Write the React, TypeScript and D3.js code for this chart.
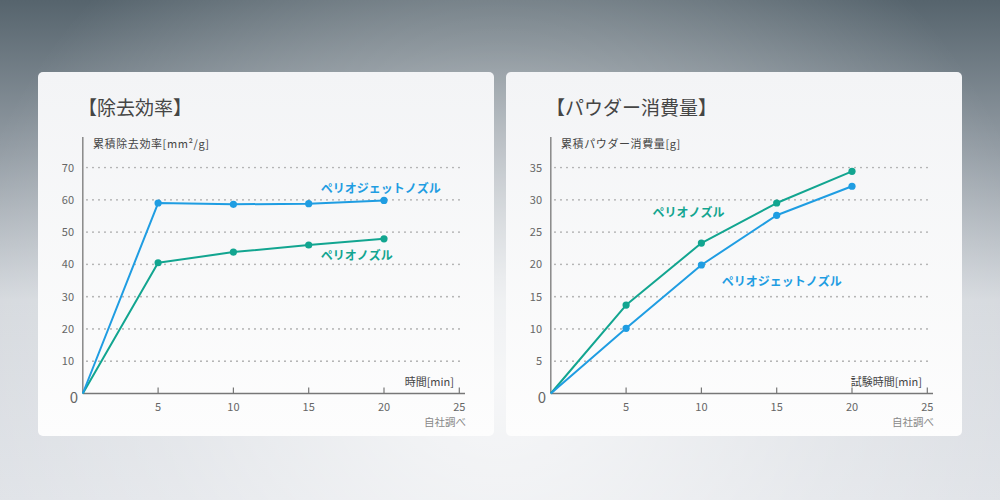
import * as React from "react"
import * as d3 from "d3"

// x values shared by both charts [min]
const minutes = [0, 5, 10, 15, 20]

// 除去効率
const removalJet = [0, 59, 58.6, 58.8, 59.8]
const removalNozzle = [0, 40.5, 43.8, 46, 47.9]
const removalTicks = [10, 20, 30, 40, 50, 60, 70]

// パウダー消費量
const powderJet = [0, 10.1, 19.9, 27.6, 32.1]
const powderNozzle = [0, 13.7, 23.3, 29.5, 34.4]
const powderTicks = [5, 10, 15, 20, 25, 30, 35]

const xTicks = [5, 10, 15, 20, 25]

const BLUE = "#1f9de2"
const GREEN = "#12a590"
const FONT = "'Noto Sans CJK JP', 'Noto Sans', sans-serif"

interface PanelConfig {
  left: number
  title: string
  yLabel: string
  xLabel: string
  yMax: number
  yTicks: number[]
  series: { name: string; values: number[]; color: string; label: [number, number] }[]
}

const panels: PanelConfig[] = [
  {
    left: 38,
    title: "【除去効率】",
    yLabel: "累積除去効率[mm²/g]",
    xLabel: "時間[min]",
    yMax: 70,
    yTicks: removalTicks,
    series: [
      { name: "ペリオノズル", values: removalNozzle, color: GREEN, label: [15.8, 42.7] },
      { name: "ペリオジェットノズル", values: removalJet, color: BLUE, label: [15.8, 63.5] },
    ],
  },
  {
    left: 506,
    title: "【パウダー消費量】",
    yLabel: "累積パウダー消費量[g]",
    xLabel: "試験時間[min]",
    yMax: 35,
    yTicks: powderTicks,
    series: [
      { name: "ペリオノズル", values: powderNozzle, color: GREEN, label: [6.75, 28] },
      { name: "ペリオジェットノズル", values: powderJet, color: BLUE, label: [11.35, 17.4] },
    ],
  },
]

function renderPanel(root: d3.Selection<SVGGElement, unknown, null, undefined>, p: PanelConfig, idx: number) {
  const g = root.append("g").attr("transform", `translate(${p.left},0)`)

  g.append("rect")
    .attr("x", 0)
    .attr("y", 72)
    .attr("width", 456)
    .attr("height", 364)
    .attr("rx", 5)
    .attr("fill", "url(#cardgrad)")

  const ox = 44.8
  const x = d3.scaleLinear().domain([0, 25]).range([ox, ox + 376.5])
  const y = d3.scaleLinear().domain([0, p.yMax]).range([393.5, 167.5])

  // title
  g.append("text")
    .attr("x", 40)
    .attr("y", 115)
    .attr("font-family", FONT)
    .attr("font-size", 19)
    .attr("fill", "#454545")
    .text(p.title)

  // grid
  g.selectAll(".grid")
    .data(p.yTicks)
    .join("line")
    .attr("class", "grid")
    .attr("x1", 49)
    .attr("x2", 423)
    .attr("y1", (d) => y(d))
    .attr("y2", (d) => y(d))
    .attr("stroke", "#a0a0a0")
    .attr("stroke-width", 1.7)
    .attr("stroke-linecap", "round")
    .attr("stroke-dasharray", "0,6")

  // y tick labels
  g.selectAll(".ytick")
    .data(p.yTicks)
    .join("text")
    .attr("class", "ytick")
    .attr("x", 36)
    .attr("y", (d) => y(d) + 4)
    .attr("text-anchor", "end")
    .attr("font-family", FONT)
    .attr("font-size", 11)
    .attr("fill", "#666")
    .text((d) => d)

  g.append("text")
    .attr("x", 40)
    .attr("y", y(0) + 9)
    .attr("text-anchor", "end")
    .attr("font-family", FONT)
    .attr("font-size", 15)
    .attr("fill", "#666")
    .text("0")

  // axes
  g.append("line")
    .attr("x1", ox)
    .attr("x2", ox)
    .attr("y1", 137)
    .attr("y2", y(0))
    .attr("stroke", "#888")
    .attr("stroke-width", 1.5)
  g.append("line")
    .attr("x1", ox)
    .attr("x2", 427)
    .attr("y1", y(0))
    .attr("y2", y(0))
    .attr("stroke", "#777")
    .attr("stroke-width", 1.5)

  g.selectAll(".xtick")
    .data(xTicks)
    .join("line")
    .attr("class", "xtick")
    .attr("x1", (d) => x(d))
    .attr("x2", (d) => x(d))
    .attr("y1", y(0) - 6)
    .attr("y2", y(0))
    .attr("stroke", "#777")
    .attr("stroke-width", 1.2)

  g.selectAll(".xlabel")
    .data(xTicks)
    .join("text")
    .attr("class", "xlabel")
    .attr("x", (d) => x(d))
    .attr("y", y(0) + 17.5)
    .attr("text-anchor", "middle")
    .attr("font-family", FONT)
    .attr("font-size", 11)
    .attr("fill", "#666")
    .text((d) => d)

  // axis labels
  g.append("text")
    .attr("x", 55)
    .attr("y", 148)
    .attr("font-family", FONT)
    .attr("font-size", 11)
    .attr("letter-spacing", 0.6)
    .attr("fill", "#444")
    .text(p.yLabel)
  g.append("text")
    .attr("x", 416)
    .attr("y", 386)
    .attr("text-anchor", "end")
    .attr("font-family", FONT)
    .attr("font-size", 11)
    .attr("fill", "#444")
    .text(p.xLabel)
  g.append("text")
    .attr("x", 428)
    .attr("y", 426)
    .attr("text-anchor", "end")
    .attr("font-family", FONT)
    .attr("font-size", 10.5)
    .attr("fill", "#888")
    .text("自社調べ")

  // series
  const line = d3
    .line<number>()
    .x((_d, i) => x(minutes[i]))
    .y((d) => y(d))

  p.series.forEach((s) => {
    g.append("path")
      .attr("d", line(s.values))
      .attr("fill", "none")
      .attr("stroke", s.color)
      .attr("stroke-width", 2)
      .attr("stroke-linejoin", "round")

    g.selectAll(`.dot-${idx}-${s.color.slice(1)}`)
      .data(s.values.slice(1))
      .join("circle")
      .attr("cx", (_d, i) => x(minutes[i + 1]))
      .attr("cy", (d) => y(d))
      .attr("r", 3.6)
      .attr("fill", s.color)

    g.append("text")
      .attr("x", x(s.label[0]))
      .attr("y", y(s.label[1]) + 4.5)
      .attr("font-family", FONT)
      .attr("font-size", 12)
      .attr("font-weight", "bold")
      .attr("fill", s.color)
      .text(s.name)
  })
}

export default function App(): React.JSX.Element {
  const svgRef = React.useRef<SVGSVGElement>(null)

  React.useEffect(() => {
    const svg = d3.select(svgRef.current)
    svg.selectAll("*").remove()

    const defs = svg.append("defs")
    const bg = defs
      .append("linearGradient")
      .attr("id", "bgline")
      .attr("x1", "0%")
      .attr("x2", "0%")
      .attr("y1", "0%")
      .attr("y2", "100%")
    bg.append("stop").attr("offset", "0%").attr("stop-color", "#56646d")
    bg.append("stop").attr("offset", "30%").attr("stop-color", "#939ca4")
    bg.append("stop").attr("offset", "60%").attr("stop-color", "#d4d8dd")
    bg.append("stop").attr("offset", "100%").attr("stop-color", "#dfe2e7")

    const glow = defs
      .append("radialGradient")
      .attr("id", "bgglow")
      .attr("gradientUnits", "userSpaceOnUse")
      .attr("cx", 500)
      .attr("cy", 380)
      .attr("r", 560)
    glow.append("stop").attr("offset", "0%").attr("stop-color", "#ffffff").attr("stop-opacity", 0.75)
    glow.append("stop").attr("offset", "60%").attr("stop-color", "#ffffff").attr("stop-opacity", 0.25)
    glow.append("stop").attr("offset", "100%").attr("stop-color", "#ffffff").attr("stop-opacity", 0)

    const card = defs
      .append("linearGradient")
      .attr("id", "cardgrad")
      .attr("x1", "0%")
      .attr("x2", "0%")
      .attr("y1", "0%")
      .attr("y2", "100%")
    card.append("stop").attr("offset", "0%").attr("stop-color", "#f3f4f6")
    card.append("stop").attr("offset", "100%").attr("stop-color", "#fdfdfd")

    svg.append("rect").attr("width", 1000).attr("height", 500).attr("fill", "url(#bgline)")
    svg.append("rect").attr("width", 1000).attr("height", 500).attr("fill", "url(#bgglow)")

    const root = svg.append("g")
    panels.forEach((p, i) => renderPanel(root, p, i))
  }, [])

  return (
    <div style={{ position: "fixed", left: 0, top: 0, width: 1000, height: 500 }}>
      <svg ref={svgRef} width={1000} height={500} style={{ display: "block" }}></svg>
    </div>
  )
}
